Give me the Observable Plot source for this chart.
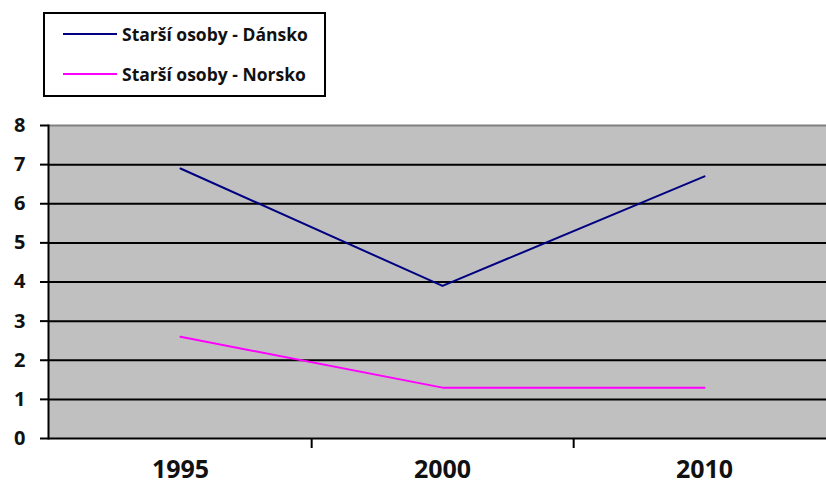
<!DOCTYPE html>
<html>
<head>
<meta charset="utf-8">
<script src="https://cdn.jsdelivr.net/npm/d3@7"></script>
<script src="https://cdn.jsdelivr.net/npm/@observablehq/plot@0.6"></script>
<style>
  html, body { margin: 0; padding: 0; background: white; overflow: hidden; }
  #wrap { position: relative; width: 826px; height: 499px; }
  #legend {
    position: absolute; left: 43px; top: 12px; width: 279px; height: 81px;
    border: 2px solid black; background: white; font-family: "Open Sans", sans-serif;
    font-weight: bold; font-size: 17.5px; color: #111;
  }
  .item { position: absolute; left: 18px; display: flex; align-items: center; height: 20px; white-space: nowrap; }
  .swatch { width: 54px; height: 2px; margin-right: 5px; }
</style>
</head>
<body>
<div id="wrap">
  <div id="chart"></div>
  <div id="legend"></div>
</div>
<script>
const years = ["1995", "2000", "2010"];
const seriesNames = ["Starší osoby - Dánsko", "Starší osoby - Norsko"];
const danskoValues = [6.9, 3.9, 6.7];
const norskoValues = [2.6, 1.3, 1.3];
const seriesColors = ["#000080", "#FF00FF"];
const yTicks = [0, 1, 2, 3, 4, 5, 6, 7, 8];

const dansko = years.map((y, i) => ({year: y, value: danskoValues[i]}));
const norsko = years.map((y, i) => ({year: y, value: norskoValues[i]}));

const W = 826, H = 499, ML = 48, MR = -9, MT = 125, MB = 61;
const halfStep = (W - MR - ML) / years.length / 2;

const chart = Plot.plot({
  width: W, height: H,
  marginLeft: ML, marginRight: MR, marginTop: MT, marginBottom: MB,
  style: {fontFamily: "'Open Sans', sans-serif", background: "white", overflow: "visible"},
  x: {type: "point", domain: years, padding: 0.5},
  y: {domain: [0, 8]},
  marks: [
    Plot.frame({fill: "#C0C0C0", stroke: "none"}),
    Plot.ruleY(yTicks.filter(d => d > 0 && d < 8), {stroke: "black", strokeWidth: 2}),
    Plot.ruleY([8], {stroke: "#808080", strokeWidth: 2}),
    Plot.ruleY([0], {stroke: "black", strokeWidth: 2}),
    Plot.frame({anchor: "left", stroke: "black", strokeWidth: 2}),
    Plot.axisY({ticks: yTicks, tickSize: 8, tickPadding: 15, fontSize: 20, fontWeight: "bold", stroke: "black", strokeWidth: 2, fill: "#111", label: null}),
    Plot.axisX({ticks: years.slice(0, 2), tickSize: 10, tickFormat: () => "", dx: halfStep, stroke: "black", strokeWidth: 2, label: null}),
    Plot.axisX({tickSize: 0, tickPadding: 22, fontSize: 25, fontWeight: "bold", fill: "#111", label: null}),
    Plot.line(dansko, {x: "year", y: "value", stroke: seriesColors[0], strokeWidth: 2}),
    Plot.line(norsko, {x: "year", y: "value", stroke: seriesColors[1], strokeWidth: 2})
  ]
});
document.getElementById("chart").appendChild(chart);

const legend = document.getElementById("legend");
seriesNames.forEach((name, i) => {
  const item = document.createElement("div");
  item.className = "item";
  item.style.top = (10 + i * 40) + "px";
  const sw = document.createElement("div");
  sw.className = "swatch";
  sw.style.background = seriesColors[i];
  const label = document.createElement("span");
  label.textContent = name;
  item.appendChild(sw);
  item.appendChild(label);
  legend.appendChild(item);
});
</script>
</body>
</html>
